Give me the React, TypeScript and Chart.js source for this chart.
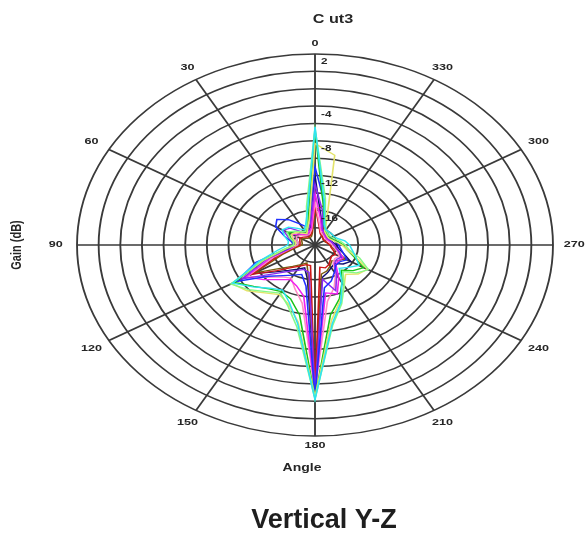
import React, { useEffect, useRef } from 'react';
import { Chart, registerables } from 'chart.js';

Chart.register(...registerables);

// Measurement angles (degrees, counter-clockwise from top as in the figure)
const angles = [0, 10, 20, 30, 40, 50, 60, 70, 80, 90, 100, 110, 120, 130, 140, 150, 160, 170,
  180, 190, 200, 210, 220, 230, 240, 250, 260, 270, 280, 290, 300, 310, 320, 330, 340, 350];

// Radial (gain) tick labels shown
const gainTicks = [2, -4, -8, -12, -16];
const gainMin = -20;
const gainMax = 2;
const gainStep = 2;

const chartTitle = 'C ut3';
const radialTitle = 'Gain (dB)';
const angleTitle = 'Angle';
const caption = 'Vertical Y-Z';

// Series (gain in dB at each angle above)
const traceCyan = [-6.4, -16, -17.5, -18, -17.5, -16.8, -16.5, -17, -17.5, -17.5, -16.5, -14.5, -11.2, -12.5, -13.5, -14, -13, -10.8, -2.2, -10.8, -13, -15, -16.5, -16, -15.3, -16, -16.5, -16.8, -17.2, -17.8, -18, -18, -18, -18, -17.5, -15];
const traceLightGreen = [-6.6, -15.5, -17.8, -18.2, -18, -17.5, -17, -17.5, -18, -18, -17, -14.8, -11, -12, -13, -13.6, -12.6, -10.4, -2.3, -10.6, -12.8, -14.6, -16, -15, -14.3, -15.6, -16.8, -17.2, -17.6, -18, -18.2, -18.3, -18.2, -18, -17.2, -14.5];
const traceYellow = [-8.3, -17, -18, -18.5, -18.2, -17.8, -17.5, -17.8, -18.2, -18.2, -17.2, -15, -11.1, -11.8, -12.8, -13.4, -12.8, -11, -2.5, -11.2, -13.2, -14.6, -15.6, -14.8, -14.4, -16, -17, -17.5, -18, -18.3, -18.5, -18.5, -18.4, -18.2, -16.8, -9.5];
const traceGreen = [-6.8, -16.5, -18, -18.3, -18, -17.6, -17.2, -17.6, -18, -18, -17.2, -15, -11.4, -12.6, -13.4, -13.8, -13.4, -11.8, -2.4, -11.8, -13.4, -15, -16.2, -15.4, -14.8, -16.2, -17, -17.4, -17.8, -18.2, -18.4, -18.4, -18.3, -18.1, -17.5, -15.5];
const traceBlue = [-11, -17, -17.8, -17.2, -16.2, -15.4, -15.8, -17, -17.8, -18, -17.4, -14.2, -11.6, -14.4, -15.4, -16, -16.4, -15.2, -2.6, -15, -15.6, -16.4, -17, -17, -16.6, -17.2, -17.6, -17.8, -18, -18.2, -18.3, -18.3, -18.2, -18, -17.6, -15];
const tracePurple = [-13, -17.5, -18.2, -18.4, -18, -17, -16.6, -17.4, -18, -18.2, -17.6, -15.2, -12.2, -14.8, -16, -16.6, -17, -16.8, -2.8, -16, -14.4, -16, -17.2, -17.4, -17.2, -17.6, -18, -18.2, -18.4, -18.5, -18.6, -18.6, -18.5, -18.3, -18, -16];
const traceMagenta = [-14, -18, -18.4, -18.6, -18.4, -18, -17.6, -17.8, -18.2, -18.2, -17.6, -15.6, -12.6, -13.8, -14.8, -15.4, -15, -14, -3, -14.4, -14, -15.6, -17, -17.2, -17, -17.6, -18, -18.2, -18.4, -18.6, -18.7, -18.7, -18.6, -18.4, -18.2, -17];
const tracePink = [-15, -18.2, -18.6, -18.7, -18.6, -18.3, -18, -18.2, -18.4, -18.4, -17.8, -16, -12.8, -14.2, -15.2, -15.6, -14.6, -13.2, -3.2, -13.4, -14.8, -16.2, -17.4, -17.6, -17.4, -17.8, -18.2, -18.4, -18.6, -18.7, -18.8, -18.8, -18.7, -18.6, -18.4, -17.6];
const traceRed = [-15.5, -18.4, -18.8, -18.9, -18.8, -18.6, -18.4, -18.5, -18.6, -18.6, -18, -16.4, -13.2, -15.4, -16.6, -17.2, -17.6, -17.6, -3.1, -17.4, -17.2, -17.4, -17.8, -18, -17.8, -18.2, -18.5, -18.6, -18.8, -18.9, -19, -19, -18.9, -18.8, -18.6, -17.8];
const traceOlive = [-16, -18.6, -19, -19, -19, -18.8, -18.6, -18.7, -18.8, -18.8, -18.2, -16.8, -13.6, -15.8, -16.8, -17.4, -17.8, -16.4, -3.6, -16.6, -16.8, -17.2, -17.6, -17.2, -16.8, -17.8, -18.4, -18.6, -18.8, -19, -19, -19, -18.9, -18.6, -17.4, -15.4];
const traceNavy = [-12, -17.6, -18.5, -18.8, -18.6, -18.2, -18, -18.2, -18.4, -18.4, -17.9, -16.2, -13.4, -15.2, -16.2, -16.8, -17.2, -16, -3.8, -16.2, -16.6, -17, -17.2, -16.6, -16.2, -17.2, -17.8, -18, -18.3, -18.5, -18.6, -18.6, -18.5, -18.3, -18, -16.8];

const traces = [
  { name: 'T1', values: traceCyan, color: '#2fe3f2' },
  { name: 'T2', values: traceLightGreen, color: '#86f986' },
  { name: 'T3', values: traceYellow, color: '#e3e36a' },
  { name: 'T4', values: traceGreen, color: '#19c219' },
  { name: 'T5', values: traceBlue, color: '#2030ff' },
  { name: 'T6', values: tracePurple, color: '#8a2cf0' },
  { name: 'T7', values: traceMagenta, color: '#f020f0' },
  { name: 'T8', values: tracePink, color: '#ff8fc4' },
  { name: 'T9', values: traceRed, color: '#d01818' },
  { name: 'T10', values: traceOlive, color: '#7a5c10' },
  { name: 'T11', values: traceNavy, color: '#101070' },
];

// horizontal stretch of the figure (ellipse)
const SX = 1.246;

// Chart.js radar runs clockwise; the figure runs counter-clockwise
const order = angles.map((_, i) => (i === 0 ? 0 : angles.length - i));

function drawText(ctx: CanvasRenderingContext2D, text: string, x: number, y: number, font: string,
  align: CanvasTextAlign, stretch: number, color = '#262626', rotate = 0) {
  ctx.save();
  ctx.translate(x, y);
  ctx.scale(stretch, 1);
  if (rotate) ctx.rotate(rotate);
  ctx.font = font;
  ctx.fillStyle = color;
  ctx.textAlign = align;
  ctx.textBaseline = 'middle';
  ctx.fillText(text, 0, 0);
  ctx.restore();
}

const ellipsePlugin = {
  id: 'ellipsePlugin',
  beforeDraw(chart: any) {
    const r = chart.scales.r;
    const ctx = chart.ctx;
    ctx.save();
    ctx.translate(r.xCenter, 0);
    ctx.scale(SX, 1);
    ctx.translate(-r.xCenter, 0);
  },
  afterDraw(chart: any) {
    const ctx: CanvasRenderingContext2D = chart.ctx;
    ctx.restore();
    const r = chart.scales.r;
    const cx = r.xCenter;
    const cy = r.yCenter;
    const labelFont = 'bold 9px "Liberation Sans", Arial, sans-serif';
    // angle labels
    order.forEach((ai, i) => {
      const a = angles[ai];
      if (a % 30 !== 0) return;
      const ang = r.getIndexAngle(i);
      const pad = 10 + 7 * Math.abs(Math.sin(ang));
      const p = r.getPointPosition(i, r.drawingArea + pad);
      const x = cx + (p.x - cx) * SX;
      drawText(ctx, String(a), x, p.y, labelFont, 'center', 1.4);
    });
    // gain tick labels
    gainTicks.forEach((v) => {
      const y = cy - r.getDistanceFromCenterForValue(v) + 8;
      drawText(ctx, String(v), cx + 6, y, labelFont, 'left', 1.3);
    });
    drawText(ctx, chartTitle, cx + 18, 20, 'bold 12px "Liberation Sans", Arial, sans-serif', 'center', 1.35);
    drawText(ctx, angleTitle, cx - 13, 468, 'bold 10px "Liberation Sans", Arial, sans-serif', 'center', 1.4);
    drawText(ctx, radialTitle, 17, cy, 'bold 11px "Liberation Sans", Arial, sans-serif', 'center', 1.3, '#262626', -Math.PI / 2);
    drawText(ctx, caption, cx + 9, 521, 'bold 27px "Liberation Sans", Arial, sans-serif', 'center', 1, '#1e1e1e');
  },
};

export default function App() {
  const ref = useRef<HTMLCanvasElement | null>(null);
  useEffect(() => {
    document.body.style.margin = '0';
    document.body.style.overflow = 'hidden';
    const canvas = ref.current;
    if (!canvas) return;
    const chart = new Chart(canvas, {
      type: 'radar',
      data: {
        labels: order.map((i) => String(angles[i])),
        datasets: traces.map((t) => ({
          label: t.name,
          data: order.map((i) => t.values[i]),
          borderColor: t.color,
          backgroundColor: 'transparent',
          borderWidth: 1.3,
          pointRadius: 0,
          pointHoverRadius: 0,
          fill: false,
          tension: 0,
          clip: false,
        })),
      },
      options: {
        responsive: false,
        animation: false,
        devicePixelRatio: 1,
        layout: { padding: { left: 124, right: 79, top: 54, bottom: 100 } },
        plugins: {
          legend: { display: false },
          title: { display: false },
          tooltip: { enabled: false },
        },
        scales: {
          r: {
            z: 1,
            min: gainMin,
            max: gainMax,
            beginAtZero: false,
            startAngle: 0,
            ticks: { stepSize: gainStep, display: false },
            pointLabels: { display: false },
            grid: { circular: true, color: '#3a3a3a', lineWidth: 1.5 },
            angleLines: {
              display: true,
              color: '#3a3a3a',
              lineWidth: (c: any) => (angles[order[c.index]] % 30 === 0 ? 1.5 : 0),
            },
          },
        },
      },
      plugins: [ellipsePlugin],
    } as any);
    return () => chart.destroy();
  }, []);
  return (
    <div style={{ position: 'relative', width: 585, height: 536 }}>
      <canvas ref={ref} width={585} height={536} style={{ width: 585, height: 536, display: 'block' }} />
    </div>
  );
}
